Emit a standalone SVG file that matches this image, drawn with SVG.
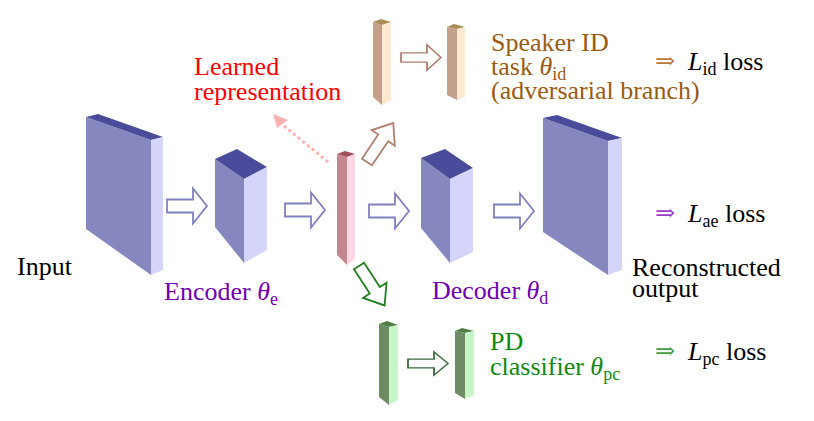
<svg xmlns="http://www.w3.org/2000/svg" width="814" height="421" viewBox="0 0 814 421">
<style>
.bf{fill:#8787c0}.bt{fill:#4b4b9c}.bs{fill:#d5d5fc}
.pf{fill:#c2878f}.pt{fill:#a04e58}.ps{fill:#ffd6e6}
.rf{fill:#c3a08a}.rt{fill:#a98c55}.rs{fill:#fde9d2}
.gf{fill:#6e8c64}.gt{fill:#4f7f47}.gs{fill:#c8f5c8}
.arr{fill:#fff;stroke-width:1.8;stroke-linejoin:miter}
</style>
<defs>
<path id="harrow" d="M0,-6.5 H26 V-17.5 L40,0 L26,17.5 V6.5 H0 Z"/>
<path id="darrow" d="M0,-6 H29 V-14 L47,0 L29,14 V6 H0 Z"/>
</defs>

<g id="input-block">
<polygon class="bf" points="86,117 151,140 151,275 86,229"/>
<polygon class="bt" points="86,117 98,114 163,137 151,140"/>
<polygon class="bs" points="151,140 163,137 163,270 151,275"/>
</g>
<g id="encoder-block">
<polygon class="bf" points="215,159 244,179 244,263 215,227"/>
<polygon class="bt" points="215,159 237,149 267,167 244,179"/>
<polygon class="bs" points="244,179 267,167 267,250 244,263"/>
</g>
<g id="latent-bar">
<polygon class="pf" points="337,154 347,157 347,265 337,255"/>
<polygon class="pt" points="337,154 345,151 355,154 347,157"/>
<polygon class="ps" points="347,157 355,154 355,259 347,265"/>
</g>
<g id="decoder-block">
<polygon class="bf" points="421,158 450,179 450,263 421,228"/>
<polygon class="bt" points="421,158 445,149 473,168 450,179"/>
<polygon class="bs" points="450,179 473,168 473,252 450,263"/>
</g>
<g id="output-block">
<polygon class="bf" points="543,118 608,141 608,275 543,232"/>
<polygon class="bt" points="543,118 557,115 622,138 608,141"/>
<polygon class="bs" points="608,141 622,138 622,270 608,275"/>
</g>
<g id="speaker-bar-1">
<polygon class="rf" points="373,22 382,25 382,105 373,97"/>
<polygon class="rt" points="373,22 381,19 391,22 382,25"/>
<polygon class="rs" points="382,25 391,22 391,100 382,105"/>
</g>
<g id="speaker-bar-2">
<polygon class="rf" points="447,27 457,29 457,100 447,95"/>
<polygon class="rt" points="447,27 454,24 465,27 457,29"/>
<polygon class="rs" points="457,29 465,27 465,97 457,100"/>
</g>
<g id="pd-bar-1">
<polygon class="gf" points="379,324 389,327 389,405 379,397"/>
<polygon class="gt" points="379,324 387,321 398,325 389,327"/>
<polygon class="gs" points="389,327 398,325 398,400 389,405"/>
</g>
<g id="pd-bar-2">
<polygon class="gf" points="455,331 465,333 465,399 455,393"/>
<polygon class="gt" points="455,331 462,328 474,331 465,333"/>
<polygon class="gs" points="465,333 474,331 474,395 465,399"/>
</g>

<g id="connectors">
<use href="#harrow" class="arr" stroke="#8080c0" transform="translate(167,206)"/>
<use href="#harrow" class="arr" stroke="#8080c0" transform="translate(285,210)"/>
<use href="#harrow" class="arr" stroke="#8080c0" transform="translate(369,211)"/>
<use href="#harrow" class="arr" stroke="#8080c0" transform="translate(494,211)"/>
<use href="#harrow" class="arr" stroke="#b08070" transform="translate(401,57.5) scale(1,0.72)" stroke-width="1.6"/>
<use href="#harrow" class="arr" stroke="#3a6a3a" transform="translate(408,363.5) scale(1,0.66)" stroke-width="1.6"/>
<use href="#darrow" class="arr" stroke="#b08070" transform="translate(367,162) rotate(-56)"/>
<use href="#darrow" class="arr" stroke="#208020" transform="translate(359,266) rotate(57)"/>
<line x1="328" y1="162" x2="284" y2="126" stroke="#ffb0b0" stroke-width="3" stroke-dasharray="3 3"/>
<polygon points="273,114 277,128 288,120" fill="#ffb0b0"/>
</g>

<g id="labels" font-family="Liberation Serif" font-size="26">
<text fill="#ff0000" x="194" y="75">Learned</text>
<text fill="#ff0000" x="194" y="100">representation</text>
<text fill="#9a5b12" x="491" y="51">Speaker ID</text>
<text fill="#9a5b12" x="491" y="75">task <tspan font-style="italic">θ</tspan><tspan font-size="18" dy="5">id</tspan></text>
<text fill="#9a5b12" x="491" y="99">(adversarial branch)</text>
<text font-family="DejaVu Serif" font-size="24" x="655" y="69" fill="#b8783a">⇒</text>
<text fill="#000" x="688" y="70"><tspan font-style="italic">L</tspan><tspan font-size="18" dy="5">id</tspan><tspan dy="-5"> loss</tspan></text>
<text font-family="DejaVu Serif" font-size="24" x="655" y="221" fill="#9a40c8">⇒</text>
<text fill="#000" x="688" y="222"><tspan font-style="italic">L</tspan><tspan font-size="18" dy="5">ae</tspan><tspan dy="-5"> loss</tspan></text>
<text font-family="DejaVu Serif" font-size="24" x="655" y="359" fill="#40a040">⇒</text>
<text fill="#000" x="688" y="360"><tspan font-style="italic">L</tspan><tspan font-size="18" dy="5">pc</tspan><tspan dy="-5"> loss</tspan></text>
<text fill="#000" x="17" y="275">Input</text>
<text fill="#7000b0" x="164" y="300">Encoder <tspan font-style="italic">θ</tspan><tspan font-size="18" dy="5">e</tspan></text>
<text fill="#7000b0" x="432" y="299">Decoder <tspan font-style="italic">θ</tspan><tspan font-size="18" dy="5">d</tspan></text>
<text fill="#000" x="632" y="276">Reconstructed</text>
<text fill="#000" x="632" y="297">output</text>
<text fill="#108a10" x="490" y="350">PD</text>
<text fill="#108a10" x="490" y="375">classifier <tspan font-style="italic">θ</tspan><tspan font-size="18" dy="5">pc</tspan></text>
</g>
</svg>
